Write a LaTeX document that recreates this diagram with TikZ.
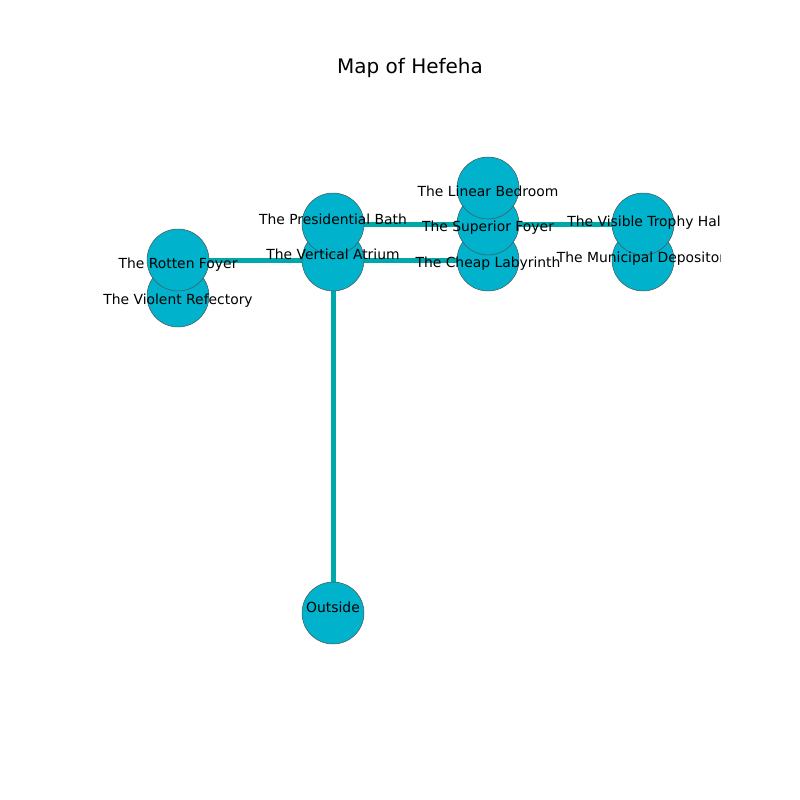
\documentclass[tikz,border=0pt]{standalone}
\usepackage{fontspec}
\setmainfont{DejaVu Sans}
\usetikzlibrary{backgrounds}

\definecolor{roomfill}{RGB}{0,178,204}
\definecolor{roomline}{RGB}{70,90,95}
\definecolor{corridor}{RGB}{0,168,170}

\tikzset{
  room/.style={circle, fill=roomfill, draw=roomline, line width=0.4pt, minimum size=44.6pt, inner sep=0pt},
  roomname/.style={anchor=base, inner sep=0pt, font=\fontsize{10}{12}\selectfont},
  corr/.style={corridor, line width=3.6pt}
}

\begin{document}
\begin{tikzpicture}[x=0.72pt, y=-0.72pt]

    \useasboundingbox (0,0) rectangle (800,800);

    \node [anchor=base, font=\fontsize{14.4}{17}\selectfont] (title) at (410,73) {Map of Hefeha};

    % rooms
    \node [room] (atrium) at (333,260) {};
    \node [room] (bath) at (333,224) {};
    \node [room] (refectory) at (178,296) {};
    \node [room] (rotten) at (178,260) {};
    \node [room] (labyrinth) at (488,260) {};
    \node [room] (superior) at (488,224) {};
    \node [room] (bedroom) at (488,188) {};
    \node [room] (depository) at (643,260) {};
    \node [room] (trophy) at (643,224) {};
    \node [room] (outside) at (333,613) {};

    % corridors
    \begin{pgfonlayer}{background}
    \draw [corr] (bath.center) -- (superior.center) -- (trophy.center);
    \draw [corr] (rotten.center) -- (atrium.center) -- (labyrinth.center);
    \draw [corr] (atrium.center) -- (outside.center);
    \end{pgfonlayer}

    % names
    \begin{scope}
    \clip (100,96) rectangle (720,712);
    \node [roomname] (bedroomname) at (488,196) {The Linear Bedroom};
    \node [roomname] (bathname) at (333,224) {The Presidential Bath};
    \node [roomname] (superiorname) at (488,231) {The Superior Foyer};
    \node [roomname] (trophyname) at (646,226) {The Visible Trophy Hall};
    \node [roomname] (atriumname) at (333,259) {The Vertical Atrium};
    \node [roomname] (labyrinthname) at (488,267) {The Cheap Labyrinth};
    \node [roomname] (depositoryname) at (645,262) {The Municipal Depository};
    \node [roomname] (rottenname) at (178,268) {The Rotten Foyer};
    \node [roomname] (refectoryname) at (178,304) {The Violent Refectory};
    \node [roomname] (outsidename) at (333,612) {Outside};
    \end{scope}

\end{tikzpicture}
\end{document}
